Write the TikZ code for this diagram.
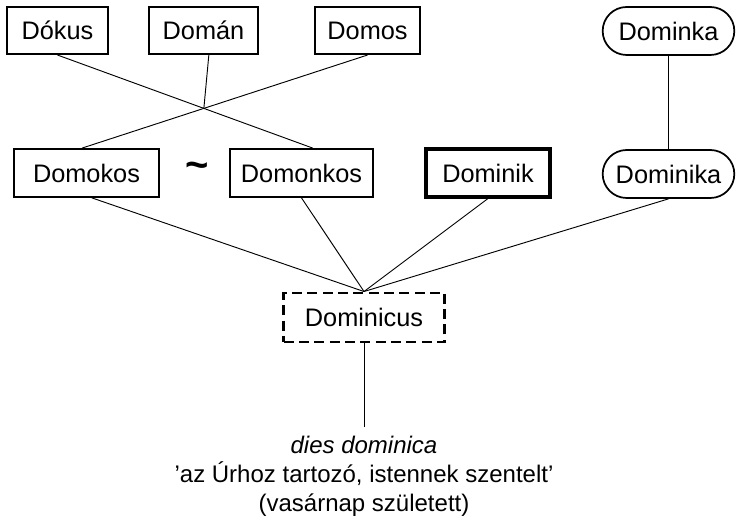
\documentclass[tikz,border=0pt]{standalone}
\usepackage{fontspec}
\setmainfont{Liberation Sans}
\usetikzlibrary{shapes.misc}

\begin{document}
\begin{tikzpicture}[x=0.75pt, y=-0.75pt,
  every node/.style={font=\fontsize{19}{22}\selectfont},
  namebox/.style={rectangle, draw, line width=1.3pt, minimum height=35.5pt, inner sep=2pt},
  roundbox/.style={rounded rectangle, draw, line width=1.3pt, minimum height=36pt, inner sep=2pt},
  mainbox/.style={namebox, line width=2.3pt},
  rootbox/.style={namebox, line width=2.2pt, dash pattern=on 7.5pt off 4pt, minimum height=36.75pt},
  link/.style={line width=0.7pt}]

\useasboundingbox (0,0) rectangle (739,530);

% Nodes
\node[namebox, minimum width=75.75pt] (dk) at (57.5,30.5) {Dókus};
\node[namebox, minimum width=81.75pt] (da) at (203.5,30.5) {Domán};
\node[namebox, minimum width=78.75pt] (ds) at (367.5,30.5) {Domos};
\node[roundbox, minimum width=102.75pt] (dka) at (668.5,31) {Dominka};

\node[namebox, minimum height=36pt, minimum width=108.75pt] (dm) at (86.5,173) {Domokos};
\node (tl) at (197,170) {\fontsize{30}{30}\selectfont\bfseries\textasciitilde};
\node[namebox, minimum height=36pt, minimum width=107.25pt] (dn) at (301.5,173) {Domonkos};
\node[mainbox, minimum height=36pt, minimum width=93pt] (dik) at (488,173) {Dominik};
\node[roundbox, minimum width=102.75pt] (dika) at (668.5,174) {Dominika};

\node[rootbox, minimum width=120.75pt] (dc) at (364,317.5) {Dominicus};

\node[align=center, anchor=north, inner ysep=6.4pt, font=\fontsize{18}{21.75}\selectfont] (mn) at (364,427)
  {\textit{dies dominica}\\ ’az Úrhoz tartozó, istennek szentelt’\\ (vasárnap született)};

% Lines
\coordinate (dnTop) at ([xshift=8.5pt]dn.north);
\coordinate (dmTop) at ([xshift=-3.4pt]dm.north);
\coordinate (cross) at (intersection of dk.south--dnTop and ds.south--dmTop);
\draw[link] (dk.south) -- (dnTop);
\draw[link] (ds.south) -- (dmTop);
\draw[link] ([xshift=4pt]da.south) -- (cross);
\draw[link] (dka) -- (dika);

\draw[link] ([xshift=4pt]dm.south) -- (dc.north);
\draw[link] (dn.south) -- (dc.north);
\draw[link] (dik.south) -- (dc.north);
\draw[link] (dika.south) -- (dc.north);
\draw[link] (dc.south) -- (mn.north);

\end{tikzpicture}
\end{document}
